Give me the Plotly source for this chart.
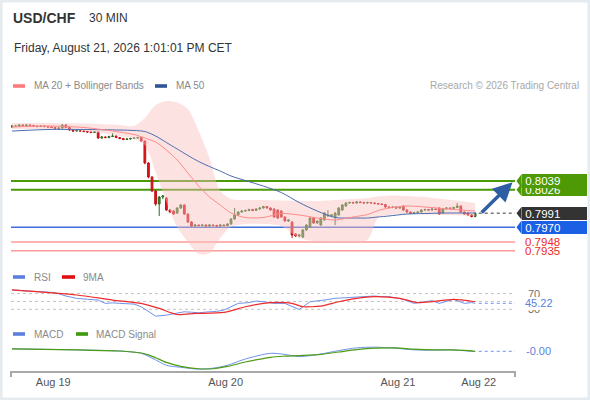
import plotly.graph_objects as go

FONT = "Liberation Sans, Arial, sans-serif"
W, H = 590, 400

# ---- 30 min candles, bar index 0..129 ----
bar_open = [
    0.81196, 0.81211, 0.81211, 0.81226, 0.81218, 0.81226, 0.81218, 0.81211, 0.81203, 0.81211,
    0.81203, 0.81196, 0.81189, 0.81174, 0.81181, 0.81226, 0.81189, 0.81151, 0.81136, 0.81144,
    0.81136, 0.81129, 0.81121, 0.81114, 0.81121, 0.81032, 0.81047, 0.81039, 0.81054, 0.81062,
    0.81039, 0.81024, 0.81009, 0.81017, 0.81024, 0.81032, 0.81039, 0.80987, 0.80659, 0.80450,
    0.80241, 0.80047, 0.80151, 0.80136, 0.79957, 0.79942, 0.79912, 0.79987, 0.80032, 0.79897,
    0.79778, 0.79718, 0.79733, 0.79726, 0.79733, 0.79718, 0.79733, 0.79726, 0.79718, 0.79733,
    0.79726, 0.79748, 0.79823, 0.79883, 0.79927, 0.79942, 0.79950, 0.79965, 0.79950, 0.79972,
    0.79987, 0.80009, 0.79987, 0.79972, 0.79957, 0.79942, 0.79853, 0.79793, 0.79778, 0.79599,
    0.79569, 0.79554, 0.79659, 0.79703, 0.79838, 0.79763, 0.79733, 0.79808, 0.79868, 0.79868,
    0.79853, 0.79883, 0.79957, 0.80017, 0.80062, 0.80069, 0.80062, 0.80077, 0.80069, 0.80062,
    0.80069, 0.80062, 0.80054, 0.80047, 0.80039, 0.80002, 0.79994, 0.80002, 0.79987, 0.80017,
    0.79957, 0.79927, 0.79905, 0.79920, 0.79927, 0.79957, 0.79965, 0.79957, 0.79972, 0.79987,
    0.79912, 0.79972, 0.79987, 0.79979, 0.79994, 0.80017, 0.79927, 0.79912, 0.79883, 0.79860,
]
bar_close = [
    0.81211, 0.81211, 0.81226, 0.81218, 0.81226, 0.81218, 0.81211, 0.81203, 0.81211, 0.81203,
    0.81196, 0.81189, 0.81174, 0.81181, 0.81226, 0.81189, 0.81151, 0.81136, 0.81144, 0.81136,
    0.81129, 0.81121, 0.81114, 0.81121, 0.81032, 0.81047, 0.81039, 0.81054, 0.81062, 0.81039,
    0.81024, 0.81009, 0.81017, 0.81024, 0.81032, 0.81039, 0.80987, 0.80659, 0.80450, 0.80241,
    0.80047, 0.80151, 0.80166, 0.79957, 0.79927, 0.79897, 0.79987, 0.80032, 0.79897, 0.79778,
    0.79718, 0.79733, 0.79726, 0.79733, 0.79718, 0.79733, 0.79726, 0.79718, 0.79733, 0.79726,
    0.79748, 0.79823, 0.79883, 0.79927, 0.79942, 0.79950, 0.79965, 0.79950, 0.79972, 0.79987,
    0.80009, 0.79987, 0.79957, 0.79853, 0.79838, 0.79853, 0.79793, 0.79808, 0.79584, 0.79569,
    0.79584, 0.79659, 0.79733, 0.79838, 0.79763, 0.79793, 0.79838, 0.79912, 0.79883, 0.79883,
    0.79912, 0.79987, 0.80032, 0.80062, 0.80069, 0.80062, 0.80077, 0.80069, 0.80062, 0.80069,
    0.80062, 0.80054, 0.80047, 0.80039, 0.80002, 0.79994, 0.80002, 0.79987, 0.79994, 0.79957,
    0.79927, 0.79905, 0.79920, 0.79927, 0.79957, 0.79965, 0.79957, 0.79972, 0.79965, 0.79897,
    0.79972, 0.79987, 0.79979, 0.79994, 0.80017, 0.79927, 0.79897, 0.79883, 0.79860, 0.79910,
]
bar_high = [
    0.81226, 0.81225, 0.81238, 0.81236, 0.81240, 0.81235, 0.81230, 0.81222, 0.81224, 0.81220,
    0.81214, 0.81207, 0.81200, 0.81192, 0.81238, 0.81236, 0.81196, 0.81160, 0.81155, 0.81152,
    0.81146, 0.81140, 0.81132, 0.81133, 0.81128, 0.81060, 0.81056, 0.81066, 0.81106, 0.81070,
    0.81048, 0.81032, 0.81028, 0.81034, 0.81042, 0.81050, 0.81046, 0.80995, 0.80670, 0.80462,
    0.80255, 0.80165, 0.80180, 0.80150, 0.79970, 0.79955, 0.79998, 0.80045, 0.80040, 0.79905,
    0.79790, 0.79745, 0.79742, 0.79744, 0.79742, 0.79745, 0.79744, 0.79737, 0.79746, 0.79743,
    0.79760, 0.79835, 0.79987, 0.79940, 0.79955, 0.79962, 0.79976, 0.79975, 0.79984, 0.79998,
    0.80020, 0.80018, 0.79996, 0.79982, 0.79966, 0.79955, 0.79862, 0.79820, 0.79788, 0.79610,
    0.79598, 0.79670, 0.79745, 0.79850, 0.79848, 0.79805, 0.79850, 0.79925, 0.79957, 0.79895,
    0.79925, 0.80000, 0.80045, 0.80075, 0.80082, 0.80080, 0.80090, 0.80088, 0.80080, 0.80082,
    0.80078, 0.80072, 0.80064, 0.80058, 0.80048, 0.80014, 0.80015, 0.80012, 0.80006, 0.80026,
    0.79966, 0.79936, 0.79932, 0.79940, 0.79968, 0.79976, 0.79974, 0.79984, 0.79980, 0.79996,
    0.79984, 0.79998, 0.79996, 0.80006, 0.80062, 0.80026, 0.79936, 0.79922, 0.79895, 0.79922,
]
bar_low = [
    0.81185, 0.81198, 0.81202, 0.81208, 0.81210, 0.81207, 0.81200, 0.81192, 0.81195, 0.81192,
    0.81186, 0.81178, 0.81165, 0.81166, 0.81172, 0.81180, 0.81140, 0.81126, 0.81130, 0.81125,
    0.81118, 0.81110, 0.81104, 0.81106, 0.81020, 0.81022, 0.81028, 0.81030, 0.81046, 0.81030,
    0.81014, 0.81000, 0.81002, 0.81010, 0.81018, 0.81025, 0.80975, 0.80640, 0.80430, 0.80225,
    0.80020, 0.79868, 0.80120, 0.79945, 0.79912, 0.79885, 0.79900, 0.79975, 0.79885, 0.79765,
    0.79705, 0.79708, 0.79715, 0.79716, 0.79708, 0.79710, 0.79716, 0.79706, 0.79708, 0.79714,
    0.79715, 0.79740, 0.79815, 0.79872, 0.79915, 0.79932, 0.79940, 0.79940, 0.79942, 0.79962,
    0.79978, 0.79978, 0.79946, 0.79842, 0.79826, 0.79842, 0.79782, 0.79780, 0.79539, 0.79555,
    0.79550, 0.79540, 0.79648, 0.79690, 0.79750, 0.79752, 0.79722, 0.79798, 0.79858, 0.79855,
    0.79733, 0.79872, 0.79945, 0.80005, 0.80050, 0.80052, 0.80050, 0.80058, 0.80052, 0.80050,
    0.80052, 0.80044, 0.80036, 0.80028, 0.79990, 0.79982, 0.79985, 0.79975, 0.79978, 0.79946,
    0.79915, 0.79895, 0.79895, 0.79912, 0.79918, 0.79946, 0.79946, 0.79948, 0.79954, 0.79885,
    0.79902, 0.79962, 0.79968, 0.79970, 0.79985, 0.79915, 0.79885, 0.79870, 0.79848, 0.79850,
]
bar_idx = list(range(len(bar_close)))

# ---- moving averages / Bollinger, read at these bars ----
ma_idx = [0, 10, 20, 30, 34, 37, 40, 43, 46, 49, 52, 55, 58, 61, 65, 70, 75, 80, 85,
          90, 95, 99, 102, 105, 110, 115, 120, 125, 129]
bb_upper = [0.81256, 0.81256, 0.81248, 0.81226, 0.81211, 0.81330, 0.81524, 0.81584, 0.81562,
            0.81465, 0.81136, 0.80733, 0.80241, 0.80121, 0.80106, 0.80106, 0.80099, 0.80091,
            0.80091, 0.80106, 0.80121, 0.80136, 0.80159, 0.80174, 0.80166, 0.80151, 0.80121,
            0.80091, 0.80062]
bb_lower = [0.81166, 0.81166, 0.81136, 0.81062, 0.81017, 0.80927, 0.80524, 0.80077, 0.79703,
            0.79480, 0.79300, 0.79310, 0.79539, 0.79703, 0.79748, 0.79748, 0.79718, 0.79539,
            0.79487, 0.79480, 0.79487, 0.79509, 0.79845, 0.79883, 0.79897, 0.79890, 0.79883,
            0.79875, 0.79868]
ma20 = [0.81196, 0.81211, 0.81189, 0.81121, 0.81084, 0.81032, 0.80972, 0.80853, 0.80703,
        0.80509, 0.80315, 0.80151, 0.80032, 0.79912, 0.79845, 0.79845, 0.79905, 0.79883,
        0.79838, 0.79808, 0.79853, 0.79890, 0.79950, 0.79987, 0.80017, 0.80002, 0.79980,
        0.79957, 0.79942]
ma50 = [0.81136, 0.81159, 0.81159, 0.81151, 0.81144, 0.81129, 0.81062, 0.80965, 0.80868,
        0.80771, 0.80681, 0.80606, 0.80539, 0.80465, 0.80397, 0.80315, 0.80218, 0.80069,
        0.79942, 0.79845, 0.79838, 0.79838, 0.79853, 0.79868, 0.79897, 0.79905, 0.79912,
        0.79912, 0.79912]

# ---- RSI and its 9MA ----
rsi_idx = [0, 4, 7, 10, 12, 15, 18, 21, 24, 26, 28, 30, 32, 34, 36, 38, 40, 43, 46, 48,
           50, 52, 55, 57, 59, 61, 63, 66, 68, 70, 73, 76, 78, 80, 83, 85, 87, 90, 93, 95,
           98, 101, 103, 105, 107, 109, 112, 114, 117, 119, 121, 123, 126, 128, 129]
rsi = [79.2, 77.5, 75, 74, 72.4, 63.8, 57.9, 55.5, 53.6, 45, 46.5, 45, 44, 43.3, 36.5,
       23.7, 12.6, 15.1, 19.4, 23.7, 22.5, 21.1, 23.7, 24.5, 27.9, 36, 45, 47, 51, 49.3,
       45, 45, 38, 29.7, 49.3, 50.5, 53.6, 57.9, 59.5, 62.1, 62.8, 63.8, 62, 62.1, 59,
       55.3, 45, 47.5, 51.9, 45, 50, 55.3, 45, 47, 45.22]
ma9_idx = [0, 18, 28, 36, 41, 46, 51, 59, 65, 70, 74, 78, 81, 86, 91, 96, 101, 108, 113,
           117, 123, 129]
rsi_ma9 = [79.2, 66.4, 53.6, 45, 32.2, 16.8, 19.4, 22, 36.5, 45, 47.6, 45, 36.5, 38.2,
           49.3, 57.9, 62.1, 57.9, 46.8, 49.3, 55.3, 49.3]

# ---- MACD ----
macd_idx = [0, 18, 30, 36, 38, 40, 43, 47, 52, 56, 60, 65, 72, 76, 80, 86, 91, 96, 101,
            107, 112, 118, 122, 126, 129]
macd = [0.00017, 0.0001, 0.00002, -0.00014, -0.00035, -0.0006, -0.00098, -0.00112,
        -0.00125, -0.00118, -0.00098, -0.00054, -0.00014, -0.00022, -0.00037, -0.00019,
        0.00005, 0.00024, 0.00029, 0.00021, 0.0001, 0.00008, 0.0001, 0.00004, -0.00002]
macd_signal = [0.00017, 0.0001, 0.00002, -0.00012, -0.00025, -0.00045, -0.00078, -0.00105,
               -0.00122, -0.00122, -0.00106, -0.00075, -0.00042, -0.00034, -0.0003, -0.00022,
               -0.00005, 0.00012, 0.00022, 0.00024, 0.00015, 0.0001, 0.0001, 0.00006, 0.0]

# ---- key levels ----
resistances = [0.8039, 0.8026]
pivot = 0.7970
supports = [0.7948, 0.7935]
last_price = 0.7991
rsi_levels = [70, 50, 30]
rsi_last = 45.22
macd_last = -0.00

day_ticks = [11.5, 59.5, 107.5, 130]
day_labels = ["Aug 19", "Aug 20", "Aug 21", "Aug 22"]


def fx(x):
    return x / W


def fy(y):
    return 1 - y / H


X_RANGE = [-0.28, 140.1]
P_RANGE = [0.79181, 0.81674]
P_TOP, P_BOT = 95, 262
PPX = (P_RANGE[1] - P_RANGE[0]) / (P_BOT - P_TOP)  # price per pixel

fig = go.Figure()

# bollinger band + moving averages
fig.add_trace(go.Scatter(x=ma_idx, y=bb_upper, mode="lines", hoverinfo="skip",
                         line=dict(width=0, shape="spline", smoothing=0.8)))
fig.add_trace(go.Scatter(x=ma_idx, y=bb_lower, mode="lines", hoverinfo="skip",
                         line=dict(width=0, shape="spline", smoothing=0.8),
                         fill="tonexty", fillcolor="rgba(250,190,190,0.45)"))
fig.add_trace(go.Scatter(x=ma_idx, y=ma50, mode="lines",
                         line=dict(color="#4a6db0", width=1, shape="spline", smoothing=0.8)))
fig.add_trace(go.Scatter(x=ma_idx, y=ma20, mode="lines",
                         line=dict(color="#ff8a8a", width=1, shape="spline", smoothing=0.8)))

fig.add_trace(go.Candlestick(
    x=bar_idx, open=bar_open, high=bar_high, low=bar_low, close=bar_close,
    increasing=dict(line=dict(color="#2c6a20", width=1), fillcolor="#3a8a2a"),
    decreasing=dict(line=dict(color="#c51218", width=1), fillcolor="#e3151b"),
    whiskerwidth=0, hoverinfo="skip"))

# RSI panel
fig.add_trace(go.Scatter(x=rsi_idx, y=rsi, mode="lines", xaxis="x2", yaxis="y2",
                         line=dict(color="#6f92ec", width=1)))
fig.add_trace(go.Scatter(x=ma9_idx, y=rsi_ma9, mode="lines", xaxis="x2", yaxis="y2",
                         line=dict(color="#ee2a2a", width=1.2, shape="spline", smoothing=0.6)))

# MACD panel
fig.add_trace(go.Scatter(x=macd_idx, y=macd, mode="lines", xaxis="x3", yaxis="y3",
                         line=dict(color="#6f92ec", width=1, shape="spline", smoothing=0.8)))
fig.add_trace(go.Scatter(x=macd_idx, y=macd_signal, mode="lines", xaxis="x3", yaxis="y3",
                         line=dict(color="#4c9c14", width=1.2, shape="spline", smoothing=0.8)))

shapes = []
for lv in resistances:
    shapes.append(dict(type="line", xref="x", yref="y", x0=X_RANGE[0], x1=X_RANGE[1],
                       y0=lv, y1=lv, line=dict(color="#4b9a0a", width=2), layer="below"))
shapes.append(dict(type="line", xref="x", yref="y", x0=X_RANGE[0], x1=X_RANGE[1],
                   y0=pivot, y1=pivot, line=dict(color="#3e6fd8", width=1.5), layer="below"))
for lv in supports:
    shapes.append(dict(type="line", xref="x", yref="y", x0=X_RANGE[0], x1=X_RANGE[1],
                       y0=lv, y1=lv, line=dict(color="#ff9a9a", width=1.5), layer="below"))
shapes.append(dict(type="line", xref="x", yref="y", x0=bar_idx[-1] + 1, x1=X_RANGE[1],
                   y0=last_price, y1=last_price, line=dict(color="#333", width=1, dash="dot")))
for lv in rsi_levels:
    shapes.append(dict(type="line", xref="x2", yref="y2", x0=X_RANGE[0], x1=X_RANGE[1],
                       y0=lv, y1=lv, line=dict(color="#c4c4c4", width=1, dash="dot"),
                       layer="below"))
shapes.append(dict(type="line", xref="x2", yref="y2", x0=rsi_idx[-1] + 1, x1=X_RANGE[1],
                   y0=rsi_last, y1=rsi_last, line=dict(color="#6f92ec", width=1, dash="dot")))
shapes.append(dict(type="line", xref="x3", yref="y3", x0=macd_idx[-1] + 1, x1=X_RANGE[1],
                   y0=macd_last, y1=macd_last, line=dict(color="#6f92ec", width=1, dash="dot")))
# axis end ticks
for xp in (11, 515):
    shapes.append(dict(type="line", xref="paper", yref="paper", x0=fx(xp), x1=fx(xp),
                       y0=fy(371), y1=fy(377), line=dict(color="#a8a8a8", width=2)))
# frame
shapes.append(dict(type="rect", xref="paper", yref="paper", x0=0, x1=1, y0=0, y1=1,
                   line=dict(color="#e6ebef", width=5)))
# legend swatches
for x0, x1, yc, col in [(13, 25, 86, "#ff7b7b"), (155, 167, 86, "#2f5597"),
                        (13, 25, 277, "#5b7fe0"), (62, 75, 277, "#e01010"),
                        (13, 25, 334, "#5b7fe0"), (76, 88, 334, "#3c9a0c")]:
    shapes.append(dict(type="rect", xref="paper", yref="paper", x0=fx(x0), x1=fx(x1),
                       y0=fy(yc + 1.8), y1=fy(yc - 1.8), line=dict(width=0), fillcolor=col))

annotations = []


def price_tag(val, bg, half=6.5):
    # little left pointer + box
    shapes.append(dict(type="path", xref="paper", yref="y",
                       path=f"M {fx(516.5)},{val} L {fx(521.6)},{val + half * PPX} "
                            f"L {fx(521.6)},{val - half * PPX} Z",
                       fillcolor=bg, line=dict(width=0)))
    annotations.append(dict(xref="paper", yref="y", x=fx(521.5), y=val, xanchor="left",
                            yanchor="middle", text="\u00a0" + f"{val:.4f}", showarrow=False,
                            align="left", width=64.5, height=2 * half, bgcolor=bg,
                            borderpad=0, borderwidth=0,
                            font=dict(color="white", size=11.5, family=FONT)))


price_tag(resistances[1], "#4e9a06")
price_tag(resistances[0], "#4e9a06", half=7)
price_tag(last_price, "#333333")
price_tag(pivot, "#1b5fe4", half=6.7)
for lv in supports:
    annotations.append(dict(xref="paper", yref="y", x=fx(523), y=lv, xanchor="left",
                            yanchor="middle", text=f"{lv:.4f}", showarrow=False,
                            font=dict(color="#f02828", size=11.5, family=FONT)))
# white strip that clips the top of the first support label
annotations.append(dict(xref="paper", yref="paper", x=fx(520), y=fy(236.2), xanchor="left",
                        yanchor="middle", text=" ", showarrow=False, width=66, height=4.4,
                        bgcolor="white", borderpad=0, borderwidth=0, font=dict(size=2)))

# RSI / MACD value labels
for lv, txt in [(70, "70"), (30, "30")]:
    annotations.append(dict(xref="paper", yref="y2", x=fx(526), y=lv, xanchor="left",
                            yanchor="middle", text=txt, showarrow=False,
                            font=dict(color="#707070", size=11, family=FONT)))
annotations.append(dict(xref="paper", yref="y2", x=fx(525), y=rsi_last, xanchor="left",
                        yanchor="middle", text=f"{rsi_last:.2f}", showarrow=False,
                        align="left", width=32, height=12.6, bgcolor="white", borderpad=0,
                        borderwidth=0, font=dict(color="#5b7fe0", size=11, family=FONT)))
annotations.append(dict(xref="paper", yref="y3", x=fx(524), y=macd_last, xanchor="left",
                        yanchor="middle", text="-0.00", showarrow=False,
                        font=dict(color="#5b7fe0", size=11, family=FONT)))

# arrow
annotations.append(dict(xref="x", yref="y", axref="x", ayref="y", x=139.4, y=0.80372,
                        ax=130.4, ay=0.79898, text="", showarrow=True, arrowhead=2,
                        arrowsize=1.1, arrowwidth=3.5, arrowcolor="#2e5fa3", standoff=0))

# header and legends
def label(x, y, text, size, color, bold=False, anchor="left"):
    annotations.append(dict(xref="paper", yref="paper", x=fx(x), y=fy(y), xanchor=anchor,
                            yanchor="middle", text=f"<b>{text}</b>" if bold else text,
                            showarrow=False, font=dict(size=size, color=color, family=FONT)))


label(11, 18, "USD/CHF", 14, "#333333", bold=True)
label(87, 18, "30 MIN", 12, "#333333")
label(12, 48, "Friday, August 21, 2026 1:01:01 PM CET", 12, "#333333")
label(32, 86, "MA 20 + Bollinger Bands", 10, "#8a8a8a")
label(174, 86, "MA 50", 10, "#8a8a8a")
label(581, 86, "Research © 2026 Trading Central", 10, "#a8a8a8", anchor="right")
label(32, 277, "RSI", 10, "#8a8a8a")
label(81, 277, "9MA", 10, "#8a8a8a")
label(32, 334, "MACD", 10, "#8a8a8a")
label(94, 334, "MACD Signal", 10, "#8a8a8a")

hidden = dict(visible=False, showgrid=False, zeroline=False)
x_dom = [fx(11), fx(515)]
fig.update_layout(
    width=W, height=H, margin=dict(l=0, r=0, t=0, b=0),
    paper_bgcolor="white", plot_bgcolor="white", showlegend=False,
    font=dict(family=FONT),
    xaxis=dict(domain=x_dom, range=X_RANGE, anchor="y", rangeslider=dict(visible=False),
               **hidden),
    yaxis=dict(domain=[fy(P_BOT), fy(P_TOP)], range=P_RANGE, anchor="x", **hidden),
    xaxis2=dict(domain=x_dom, range=X_RANGE, anchor="y2", **hidden),
    yaxis2=dict(domain=[fy(320), fy(280)], range=[2.74, 104.6], anchor="x2", **hidden),
    xaxis3=dict(domain=x_dom, range=X_RANGE, anchor="y3", showgrid=False, zeroline=False,
                showline=True, linecolor="#a8a8a8", linewidth=2, ticks="",
                tickvals=day_ticks, ticktext=day_labels,
                tickfont=dict(size=11, color="#555555", family=FONT)),
    yaxis3=dict(domain=[fy(371), fy(338)], range=[-0.001379, 0.000931], anchor="x3",
                **hidden),
    shapes=shapes, annotations=annotations,
)

# page body has a default 8px margin; drop it so the figure sits at the window corner
fig.write_html("out.html", config={"displayModeBar": False, "staticPlot": True},
               post_script="document.body.style.margin='0px';")
